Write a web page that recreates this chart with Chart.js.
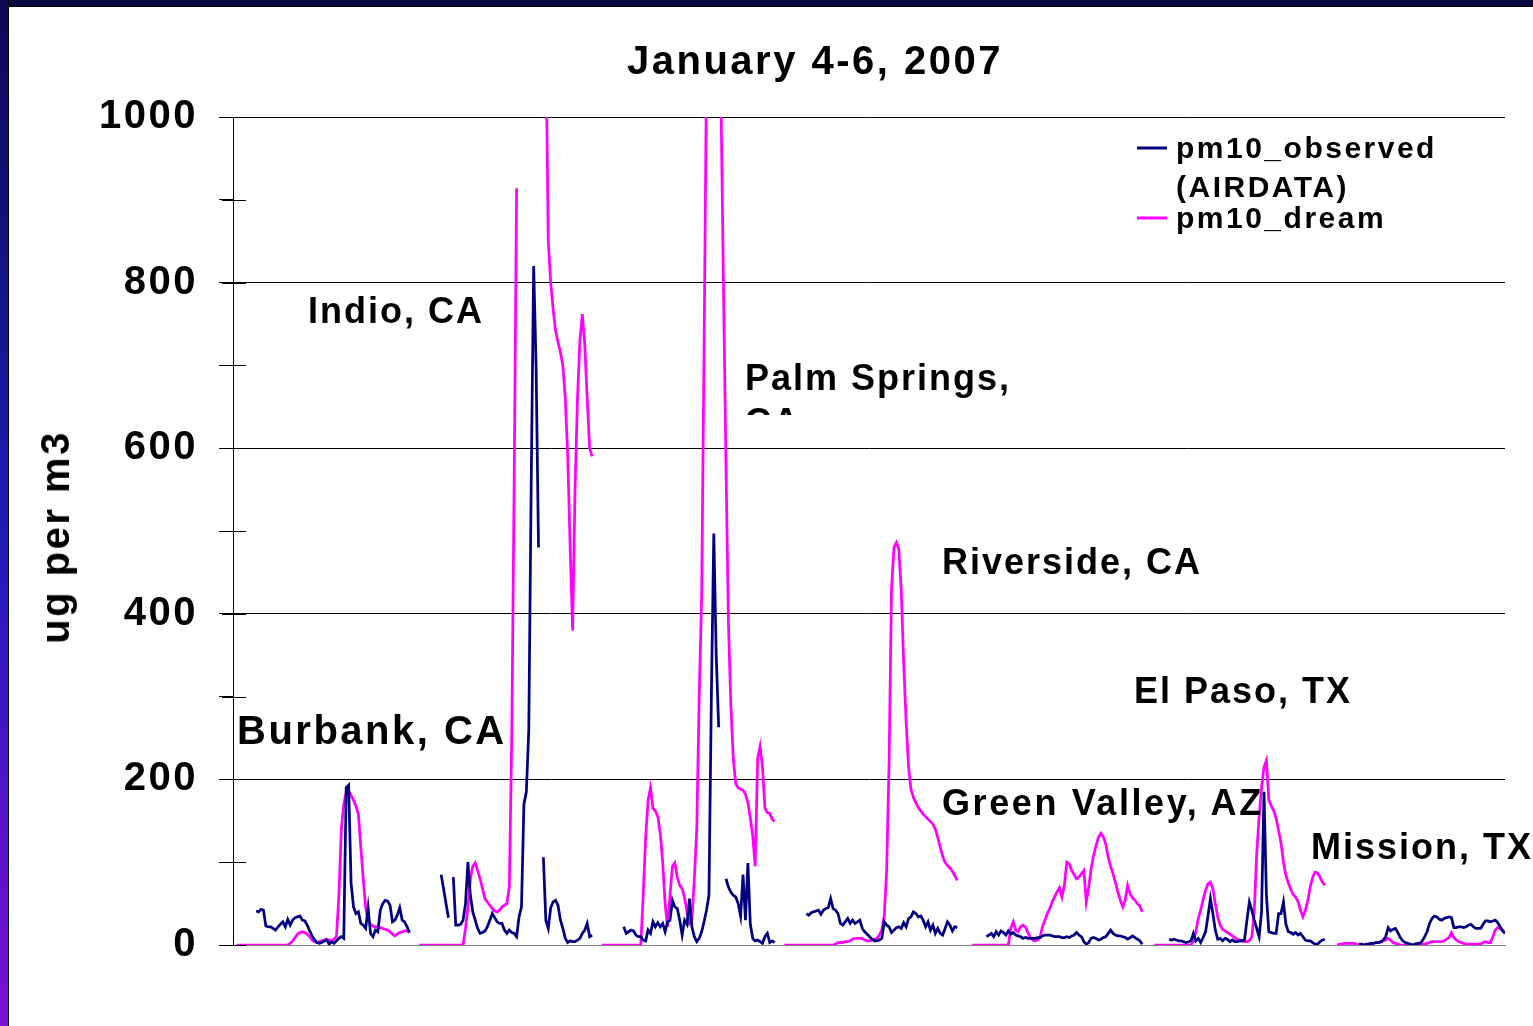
<!DOCTYPE html>
<html>
<head>
<meta charset="utf-8">
<title>January 4-6, 2007</title>
<script src="https://cdn.jsdelivr.net/npm/chart.js@4.4.1/dist/chart.umd.min.js"></script>
<style>
    body {
        margin: 0;
        width: 1533px;
        height: 1026px;
        overflow: hidden;
        position: relative;
        background: #ffffff;
        font-family: "Liberation Sans", Arial, sans-serif;
        font-weight: bold;
        color: #000000;
    }
    #pmChart {
        position: absolute;
        left: 0;
        top: 0;
    }
    .frame-top {
        position: absolute;
        left: 0;
        top: 0;
        width: 1533px;
        height: 6px;
        background: #060a42;
        border-bottom: 1px solid #000000;
    }
    .frame-left {
        position: absolute;
        left: 0;
        top: 0;
        width: 8px;
        height: 1026px;
        background: linear-gradient(#0a0a55, #1c1cb4 50%, #7c0fd2);
        border-right: 1px solid #000000;
    }
    .label {
        position: absolute;
        white-space: nowrap;
        line-height: 1;
        transform: translateY(-50%);
        font-size: 36px;
        letter-spacing: 2px;
    }
    .clip-label {
        position: absolute;
        white-space: nowrap;
        overflow: hidden;
        font-size: 36px;
        line-height: 44px;
        letter-spacing: 2px;
    }
    .y-title {
        position: absolute;
        white-space: nowrap;
        line-height: 1;
        font-size: 40px;
        letter-spacing: 2.5px;
        transform: translate(-50%, -50%) rotate(-90deg);
    }
    .legend-line {
        position: absolute;
        width: 30px;
        height: 3px;
        transform: translateY(-50%);
    }
</style>
</head>
<body>
<canvas id="pmChart" width="1533" height="1026"></canvas>
<div class="frame-top"></div>
<div class="frame-left"></div>

<div class="label" style="left:627px; top:60px; font-size:40px; letter-spacing:2.5px;">January 4-6, 2007</div>
<div class="y-title" style="left:55px; top:537px;">ug per m3</div>

<div class="legend-line" style="left:1137px; top:148px; background:#000080;"></div>
<div class="label" style="left:1176px; top:148px; font-size:30px; letter-spacing:2.5px;">pm10_observed</div>
<div class="label" style="left:1176px; top:187px; font-size:30px; letter-spacing:2.5px;">(AIRDATA)</div>
<div class="legend-line" style="left:1137px; top:218px; background:#ff00ff;"></div>
<div class="label" style="left:1176px; top:218px; font-size:30px; letter-spacing:2.5px;">pm10_dream</div>

<div class="label" style="left:308px; top:311px;">Indio, CA</div>
<div class="clip-label" style="left:745px; top:356px; height:59px;">Palm Springs,<br>CA</div>
<div class="label" style="left:942px; top:562px;">Riverside, CA</div>
<div class="label" style="left:1134px; top:691px;">El Paso, TX</div>
<div class="label" style="left:237px; top:730px; font-size:40px; letter-spacing:2.5px;">Burbank, CA</div>
<div class="label" style="left:942px; top:803px; letter-spacing:2.6px;">Green Valley, AZ</div>
<div class="label" style="left:1311px; top:847px;">Mission, TX</div>

<script>
// hourly PM10 (ug/m3), one array per station, Jan 4-6 2007
const stations = ['Burbank, CA', 'Indio, CA', 'Palm Springs, CA', 'Riverside, CA', 'Green Valley, AZ', 'El Paso, TX', 'Mission, TX'];

const burbankObs = [
    null, null, null, null, null, null, null, null,
    41, 40, 43, 42, 23, 22, 22, 20, 18, 22,
    25, 28, 22, 31, 24, 30, 33, 34, 35, 30,
    29, 24, 17, 11, 6, 3, 2, 3, 5, 6,
    1, 4, 2, 5, 8, 10, 8, 190, 193, 75,
    46, 38, 40, 26, 24, 20, 45, 14, 10, 18,
    16, 42, 50, 54, 53, 48, 28, 30, 36, 45,
    30, 28, 22, 15
];
const burbankDream = [
    0, 0, 0, 0, 0, 0, 0, 0, 0, 0, 0, 0, 0, 0, 0, 0, 0, 0, 0, 0, 0, 0,
    2, 5, 9, 13, 15, 16, 15, 13, 10, 6,
    4, 3, 4, 5, 6, 7, 6, 5, 7, 10,
    60, 140, 170, 184, 186, 181, 175, 168, 158, 118,
    80, 45, 30, 25, 23, 22, 22, 21, 20, 19,
    18, 16, 13, 11, 13, 15, 16, 17, 17, 15
];

const indioObs = [
    null, null, null, null, null, null, null, null, null,
    85, 68, 50, 33, null,
    82, 24, 24, 25, 30, 50, 100, 60, 40, 30,
    20, 14, 15, 17, 22, 30, 38, 33, 28, 26,
    26, 18, 14, 18, 15, 14, 10, 34, 46, 170,
    185, 260, 560, 820, 700, 480, null,
    106, 30, 20, 45, 52, 54, 48, 30, 20, 8,
    3, 5, 4, 4, 6, 8, 14, 18, 26, 10, 12
];
const indioDream = [
    0, 0, 0, 0, 0, 0, 0, 0, 0, 0, 0, 0, 0, 0, 0, 0, 0, 0, 0,
    20, 45, 80, 95, 99, 90, 80, 68, 56, 52,
    48, 44, 41, 40, 42, 46, 48, 50, 70, 250,
    560, 914,
    null, null, null, null, null, null, null, null, null, null, null,
    1100, 850, 800, 768, 742, 728, 716, 700, 660, 590,
    480, 380, 550, 660, 730, 762, 725, 660, 600, 590
];

const palmObs = [
    null, null, null, null, null, null, null, null, null,
    22, 14, 16, 18, 17, 12, 10, 10, 6, 5,
    18, 14, 28, 22, 27, 22, 26, 16, 28, 30,
    54, 46, 44, 30, 12, 30, 25, 56, 22, 10,
    4, 8, 16, 28, 42, 60, 300, 497, 350, 263,
    null, null,
    80, 70, 64, 60, 58, 50, 35, 85, 30, 99,
    25, 8, 5, 6, 4, 2, 10, 14, 3, 5, 3
];
const palmDream = [
    0, 0, 0, 0, 0, 0, 0, 0, 0, 0, 0, 0, 0, 0, 0, 0, 0,
    60, 130, 175, 190, 165, 162, 155, 135, 100, 50,
    22, 60, 95, 99, 82, 72, 68, 57, 40, 26,
    30, 80, 140, 300, 420, 720, 1050, 1300, 1450, 1500,
    1450, 1300, 1010, 790, 580, 390, 290, 225, 195, 190,
    188, 187, 182, 172, 153, 132, 95, 225, 240, 215,
    165, 160, 159, 152, 149
];

const riversideObs = [
    null, null, null, null, null, null, null, null, null,
    38, 36, 39, 40, 41, 42, 37, 42, 44, 45,
    56, 44, 42, 38, 26, 24, 28, 32, 26, 30,
    26, 28, 30, 20, 16, 13, 10, 7, 5, 5,
    6, 8, 28, 24, 22, 15, 18, 21, 22, 20,
    27, 22, 32, 34, 40, 38, 34, 35, 30, 22,
    28, 18, 24, 14, 20, 14, 12, 20, 28, 24,
    17, 22, 21
];
const riversideDream = [
    0, 0, 0, 0, 0, 0, 0, 0, 0, 0, 0, 0, 0, 0, 0, 0, 0, 0, 0, 0, 0,
    1, 3, 3, 3, 4, 4, 5, 7, 8, 8,
    8, 8, 6, 5, 5, 6, 7, 8, 12, 18,
    35, 90, 220, 430, 480, 486, 478, 428, 340, 270,
    215, 188, 178, 172, 166, 162, 158, 155, 152, 149,
    146, 140, 130, 118, 107, 100, 96, 93, 89, 84, 78
];

const greenValleyObs = [
    null, null, null, null, null, null, null, null,
    10, 12, 14, 10, 16, 12, 17, 15, 12, 17,
    13, 15, 12, 11, 10, 8, 9, 8, 8, 8,
    8, 9, 9, 11, 12, 12, 12, 11, 10, 10,
    10, 9, 9, 10, 9, 11, 12, 15, 12, 10,
    4, 1, 3, 8, 9, 8, 6, 7, 9, 10,
    14, 18, 14, 12, 11, 11, 10, 9, 7, 9,
    11, 9, 7, 5, 1
];
const greenValleyDream = [
    null, null,
    0, 0, 0, 0, 0, 0, 0, 0, 0, 0, 0, 0, 0, 0, 0, 0,
    20, 28, 18, 16, 22, 24, 22, 15, 9, 6,
    5, 6, 9, 22, 30, 38, 44, 52, 58, 64,
    69, 58, 72, 100, 98, 90, 85, 80, 82, 86,
    90, 52, 70, 92, 108, 120, 130, 135, 131, 122,
    106, 95, 86, 75, 64, 54, 46, 54, 72, 62,
    57, 54, 50, 47, 40
];

const elPasoObs = [
    null, null, null, null, null, null, null, null,
    7, 6, 7, 6, 5, 5, 4, 3, 4, 5,
    14, 5, 8, 3, 9, 16, 35, 56, 38, 18,
    7, 8, 5, 8, 7, 4, 6, 4, 4, 5,
    5, 6, 30, 52, 42, 30, 20, 10, 40, 185,
    60, 16, 15, 14, 14, 38, 38, 52, 25, 16,
    15, 13, 15, 12, 14, 10, 6, 5, 5, 3,
    1, 1, 4, 6, 7
];
const elPasoDream = [
    null, null,
    0, 0, 0, 0, 0, 0, 0, 0, 0, 0, 0, 0, 0, 0, 0, 0,
    5, 16, 32, 42, 55, 66, 74, 76, 68, 50,
    34, 24, 19, 17, 15, 13, 11, 9, 7, 6,
    5, 4, 4, 5, 10, 40, 110, 155, 190, 215,
    223, 175, 168, 162, 153, 138, 123, 100, 84, 75,
    67, 61, 58, 52, 42, 34, 42, 54, 70, 82,
    88, 87, 82, 76, 72
];

const missionObs = [
    null, null, null, null, null, null, null, null, null, null, null,
    1, 1, 0, 1, 1, 2, 2, 3, 3, 4,
    6, 10, 21, 17, 19, 20, 15, 9, 5, 3,
    2, 1, 0, 1, 2, 2, 5, 10, 16, 26,
    32, 35, 34, 31, 30, 32, 33, 34, 33, 21,
    21, 22, 22, 21, 22, 24, 25, 22, 20, 20,
    20, 25, 29, 29, 28, 29, 30, 27, 22, 17, 14
];
const missionDream = [
    null, null,
    0, 1, 1, 2, 2, 2, 2, 2, 1, 0,
    0, 0, 0, 1, 2, 2, 3, 3, 4, 5,
    6, 8, 6, 3, 2, 1, 0, 0, 0, 0,
    0, 0, 0, 0, 0, 1, 1, 2, 3, 4,
    4, 4, 4, 4, 5, 7, 9, 15, 9, 6,
    4, 3, 2, 1, 1, 1, 1, 1, 1, 1,
    3, 4, 3, 3, 10, 18, 21, 20, 18, 14
];

const yTickLabels = [0, 200, 400, 600, 800, 1000];

const observedSeries = [burbankObs, indioObs, palmObs, riversideObs, greenValleyObs, elPasoObs, missionObs];
const dreamSeries = [burbankDream, indioDream, palmDream, riversideDream, greenValleyDream, elPasoDream, missionDream];

// each station gets 72 hourly slots plus a short blank gap
const HOURS_PER_STATION = 75;

function buildPoints(seriesList) {
    const points = [];
    seriesList.forEach((values, station) => {
        values.forEach((v, hour) => {
            points.push({ x: station * HOURS_PER_STATION + hour, y: v });
        });
        // break the line before the next station
        points.push({ x: station * HOURS_PER_STATION + values.length, y: null });
    });
    return points;
}

const LABEL_FONT = '"Liberation Sans", Arial, sans-serif';

// tick marks that cross the value axis, like the old spreadsheet style
const crossTicks = {
    id: 'crossTicks',
    beforeDraw(chart) {
        chart.ctx.letterSpacing = '2.5px';
    },
    afterDraw(chart) {
        const yScale = chart.scales.y;
        const left = chart.chartArea.left;
        const ctx = chart.ctx;
        ctx.save();
        ctx.strokeStyle = '#000000';
        ctx.lineWidth = 1;
        yScale.ticks.forEach(tick => {
            const py = Math.round(yScale.getPixelForValue(tick.value)) + 0.5;
            ctx.beginPath();
            ctx.moveTo(left - 11, py);
            ctx.lineTo(left + 13, py);
            ctx.stroke();
        });
        ctx.restore();
    }
};

const ctx = document.getElementById('pmChart').getContext('2d');

new Chart(ctx, {
    type: 'line',
    data: {
        datasets: [
            {
                label: 'pm10_observed (AIRDATA)',
                data: buildPoints(observedSeries),
                borderColor: '#000080',
                borderWidth: 2.75,
                pointRadius: 0,
                tension: 0,
                spanGaps: false
            },
            {
                label: 'pm10_dream',
                data: buildPoints(dreamSeries),
                borderColor: '#ff00ff',
                borderWidth: 2.75,
                pointRadius: 0,
                tension: 0,
                spanGaps: false
            }
        ]
    },
    options: {
        responsive: false,
        animation: false,
        events: [],
        layout: {
            padding: { left: 0, right: 28, top: 117, bottom: 81 }
        },
        plugins: {
            legend: { display: false },
            tooltip: { enabled: false },
            title: { display: false }
        },
        scales: {
            x: {
                type: 'linear',
                min: -1.5,
                max: 6 * HOURS_PER_STATION + 71,
                ticks: { display: false },
                grid: { display: false },
                border: { display: true, color: '#808080', width: 1 },
                afterFit(scale) {
                    scale.height = 0;
                }
            },
            y: {
                min: 0,
                max: 1000,
                ticks: {
                    stepSize: 100,
                    padding: 21,
                    color: '#000000',
                    font: { family: LABEL_FONT, size: 40, weight: 'bold' },
                    callback: value => (yTickLabels.includes(value) ? value : '')
                },
                grid: {
                    drawTicks: true,
                    tickLength: 14,
                    lineWidth: 1,
                    color: c => {
                        if (!c.tick) return 'rgba(0,0,0,0)';
                        if (c.tick.value === 0) return '#808080';
                        return yTickLabels.includes(c.tick.value) ? '#000000' : 'rgba(0,0,0,0)';
                    },
                    tickColor: '#000000'
                },
                border: { display: true, color: '#000000', width: 1 },
                afterFit(scale) {
                    scale.width = 233;
                }
            }
        }
    },
    plugins: [crossTicks]
});
</script>
</body>
</html>
